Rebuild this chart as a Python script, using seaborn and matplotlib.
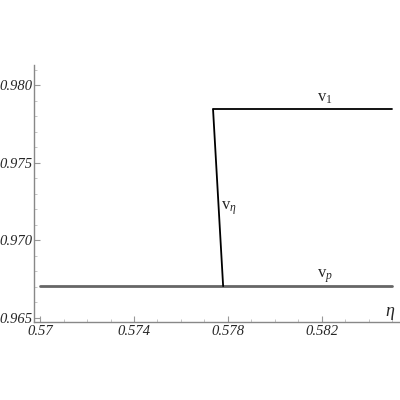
import matplotlib
matplotlib.use("Agg")
import matplotlib.pyplot as plt
import seaborn as sns
import pandas as pd
from matplotlib.ticker import MultipleLocator, FixedLocator
from matplotlib.font_manager import FontProperties

sns.set_style("ticks")
plt.rcParams['font.family'] = ['Liberation Serif', 'DejaVu Serif']
plt.rcParams['mathtext.fontset'] = 'custom'
plt.rcParams['mathtext.rm'] = 'Liberation Serif'
plt.rcParams['mathtext.it'] = 'Liberation Serif:italic'

# data
vp_x = [0.5700, 0.5850]
vp_y = [0.96705, 0.96705]
v1_x = [0.57737, 0.5850]
v1_y = [0.97843, 0.97843]
veta_x = [0.57737, 0.57780]
veta_y = [0.97843, 0.96705]
x_ticks = [0.570, 0.574, 0.578, 0.582]
x_tick_labels = ["0.57", "0.574", "0.578", "0.582"]
y_ticks = [0.965, 0.970, 0.975, 0.980]
y_tick_labels = ["0.965", "0.970", "0.975", "0.980"]

fig = plt.figure(figsize=(4, 4), dpi=100)
ax = fig.add_axes([0.084, 0.195, 0.916, 0.6425])

sns.lineplot(x=vp_x, y=vp_y, ax=ax, color="#666666", lw=2.0, sort=False, estimator=None)
sns.lineplot(x=v1_x, y=v1_y, ax=ax, color="black", lw=1.3, sort=False, estimator=None)
sns.lineplot(x=veta_x, y=veta_y, ax=ax, color="black", lw=1.3, sort=False, estimator=None)

ax.set_xlim(0.56972, 0.58534)
ax.set_ylim(0.96474, 0.98129)

fp = FontProperties(family="Liberation Serif", style="italic", size=10.5)
ax.xaxis.set_major_locator(FixedLocator(x_ticks))
ax.set_xticklabels(x_tick_labels)
ax.yaxis.set_major_locator(FixedLocator(y_ticks))
ax.set_yticklabels(y_tick_labels)
for lab in ax.get_xticklabels() + ax.get_yticklabels():
    lab.set_fontproperties(fp)
ax.xaxis.set_minor_locator(MultipleLocator(0.001))
ax.yaxis.set_minor_locator(MultipleLocator(0.001))
ax.tick_params(which="major", direction="in", length=4, width=0.8, color="#999999", pad=2)
ax.tick_params(which="minor", direction="in", length=2, width=0.6, color="#bbbbbb")
ax.tick_params(axis="y", which="major", pad=1)

for s in ["top", "right"]:
    ax.spines[s].set_visible(False)
for s in ["left", "bottom"]:
    ax.spines[s].set_color("#888888")
    ax.spines[s].set_linewidth(1.0)

ax.text(0.58212, 0.97868, r"$\mathrm{v}_1$", fontsize=12, ha="center", va="bottom")
ax.text(0.57772, 0.97205, r"$\mathrm{v}_\eta$", fontsize=12, ha="left", va="center")
ax.text(0.58212, 0.96712, r"$\mathrm{v}_p$", fontsize=12, ha="center", va="bottom")
ax.text(0.58491, 0.96530, r"$\eta$", fontsize=13, ha="center", va="center")

fig.savefig("out.png", dpi=100)
